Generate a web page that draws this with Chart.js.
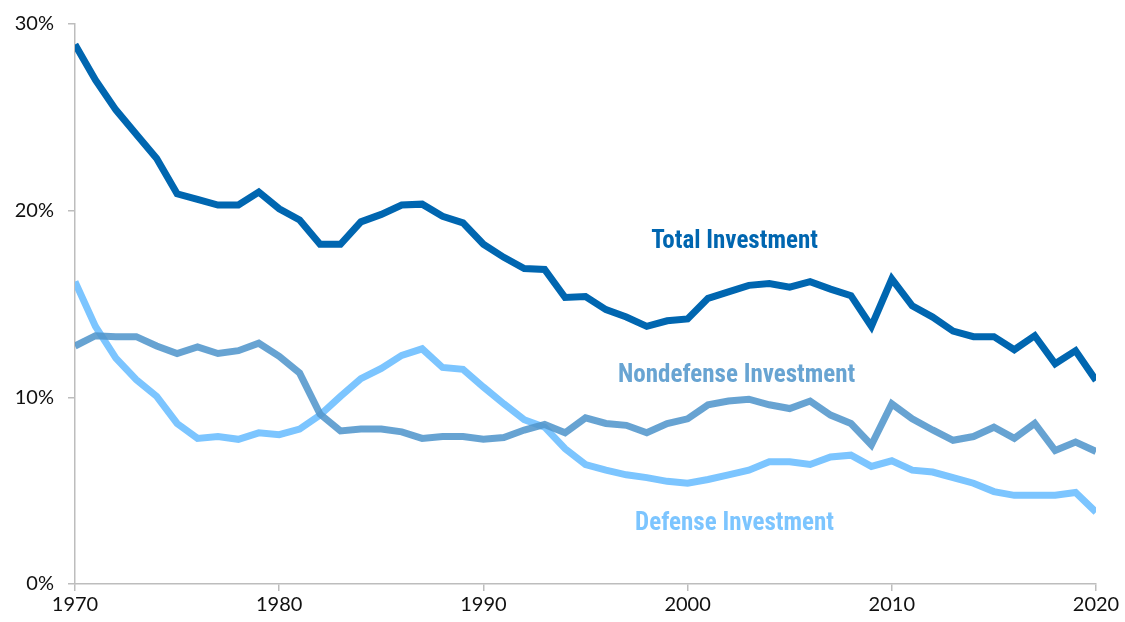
<!DOCTYPE html>
<html>
<head>
<meta charset="utf-8">
<script src="https://cdn.jsdelivr.net/npm/chart.js@4"></script>
<style>
  html, body { margin: 0; padding: 0; background: #fff; }
  #wrap { width: 1125px; height: 622px; }
</style>
</head>
<body>
<div id="wrap"><canvas id="chart"></canvas></div>
<script>
// years 1970..2020
const years = [];
for (let y = 1970; y <= 2020; y++) years.push(y);

// share of federal outlays (%)
const totalInvestment = [
  28.9, 27.0, 25.4, 24.1, 22.8, 20.9, 20.6, 20.3, 20.3, 21.0,
  20.1, 19.5, 18.2, 18.2, 19.4, 19.8, 20.3, 20.35, 19.7, 19.35,
  18.2, 17.5, 16.9, 16.85, 15.35, 15.4, 14.7, 14.3, 13.8, 14.1,
  14.2, 15.3, 15.65, 16.0, 16.1, 15.9, 16.2, 15.8, 15.45, 13.8,
  16.35, 14.9, 14.3, 13.55, 13.25, 13.25, 12.55, 13.3, 11.8, 12.5,
  10.9
];
const nondefenseInvestment = [
  12.75, 13.3, 13.25, 13.25, 12.75, 12.35, 12.7, 12.35, 12.5, 12.9,
  12.2, 11.3, 9.1, 8.2, 8.3, 8.3, 8.15, 7.8, 7.9, 7.9,
  7.75, 7.85, 8.25, 8.55, 8.1, 8.9, 8.6, 8.5, 8.1, 8.6,
  8.85, 9.6, 9.8, 9.9, 9.6, 9.4, 9.8, 9.05, 8.6, 7.45,
  9.65, 8.85, 8.25, 7.7, 7.9, 8.4, 7.8, 8.6, 7.15, 7.6,
  7.1
];
const defenseInvestment = [
  16.2, 13.8, 12.1, 10.95, 10.05, 8.6, 7.8, 7.9, 7.75, 8.1,
  8.0, 8.3, 9.05, 10.05, 11.0, 11.55, 12.25, 12.6, 11.6, 11.5,
  10.55, 9.65, 8.8, 8.4, 7.25, 6.4, 6.1, 5.85, 5.7, 5.5,
  5.4, 5.6, 5.85, 6.1, 6.55, 6.55, 6.4, 6.8, 6.9, 6.3,
  6.6, 6.1, 6.0, 5.7, 5.4, 4.95, 4.75, 4.75, 4.75, 4.9,
  3.85
];
const seriesNames = ['Total Investment', 'Nondefense Investment', 'Defense Investment'];
const yTicks = [0, 10, 20, 30];

const colTotal = '#0066b0';
const colNondef = 'rgba(82, 150, 204, 0.88)';
const colDef = '#7cc5ff';

function toPoints(vals) {
  return years.map((y, i) => ({ x: y, y: vals[i] }));
}

// series labels drawn inside the plot
const labelPos = [
  { text: seriesNames[0], x: 2002.3, y: 18.35, color: colTotal },
  { text: seriesNames[1], x: 2002.4, y: 11.15, color: '#68a4d2' },
  { text: seriesNames[2], x: 2002.3, y: 3.25, color: colDef }
];

const seriesLabels = {
  id: 'seriesLabels',
  afterDatasetsDraw(chart) {
    const ctx = chart.ctx;
    const xs = chart.scales.x, ys = chart.scales.y;
    ctx.save();
    ctx.font = 'bold 25px "Liberation Sans Narrow", "Roboto Condensed", sans-serif';
    ctx.textAlign = 'center';
    ctx.textBaseline = 'middle';
    labelPos.forEach(l => {
      ctx.fillStyle = l.color;
      ctx.fillText(l.text, xs.getPixelForValue(l.x), ys.getPixelForValue(l.y));
    });
    ctx.restore();
  }
};

const axisColor = '#bdbdbd';
const tickFont = { family: 'Lato, "Noto Sans", sans-serif', size: 20, lineHeight: 1 };

new Chart(document.getElementById('chart'), {
  type: 'line',
  data: {
    datasets: [
      { label: seriesNames[0], data: toPoints(totalInvestment), borderColor: colTotal },
      { label: seriesNames[1], data: toPoints(nondefenseInvestment), borderColor: colNondef },
      { label: seriesNames[2], data: toPoints(defenseInvestment), borderColor: colDef }
    ]
  },
  options: {
    responsive: true,
    maintainAspectRatio: false,
    animation: false,
    layout: { padding: { top: 4, right: 29, left: 0, bottom: 0 } },
    elements: {
      point: { radius: 0 },
      line: { borderWidth: 7, tension: 0, borderJoinStyle: 'miter', borderCapStyle: 'butt' }
    },
    plugins: {
      legend: { display: false },
      tooltip: { enabled: false }
    },
    scales: {
      x: {
        type: 'linear',
        min: 1970,
        max: 2020,
        afterFit(s) { s.height = 38; },
        border: { color: axisColor, width: 1.5 },
        grid: { drawOnChartArea: false, color: axisColor, tickLength: 7, lineWidth: 1.5 },
        ticks: {
          stepSize: 10,
          color: '#111',
          font: tickFont,
          padding: 4,
          maxRotation: 0,
          callback: v => String(v)
        }
      },
      y: {
        min: 0,
        max: 30,
        afterFit(s) { s.width = 75; },
        afterBuildTicks(s) { s.ticks = yTicks.map(v => ({ value: v })); },
        border: { color: axisColor, width: 1.5 },
        grid: { drawOnChartArea: false, color: axisColor, tickLength: 7, lineWidth: 1.5 },
        ticks: {
          color: '#111',
          font: tickFont,
          padding: 14,
          callback: v => v + '%'
        }
      }
    }
  },
  plugins: [seriesLabels]
});
</script>
</body>
</html>
